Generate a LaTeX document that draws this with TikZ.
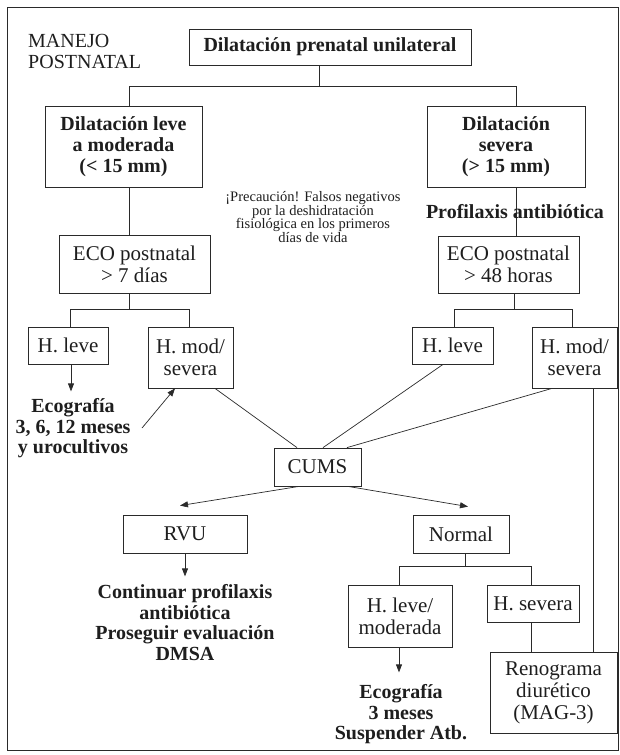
\documentclass[tikz,border=0pt]{standalone}
\usepackage{fontspec}
\setmainfont{Liberation Serif}
\usetikzlibrary{arrows.meta,calc}
\definecolor{txt}{HTML}{1E1E1E}
\definecolor{lnc}{HTML}{2A2A2A}
\begin{document}
\begin{tikzpicture}[x=1pt,y=-1pt,
  box/.style={draw=lnc, line width=0.8pt, inner sep=0pt, align=center, text=txt},
  reg/.style={font=\fontsize{21}{22}\selectfont},
  bld/.style={font=\fontsize{20}{21}\selectfont\bfseries},
  bldb/.style={font=\fontsize{20}{20.5}\selectfont\bfseries, text=txt, inner sep=0pt, align=center},
  smalltxt/.style={font=\fontsize{14.5}{13.8}\selectfont, text=txt, inner sep=0pt, align=center},
  ln/.style={draw=lnc, line width=0.7pt},
  arr/.style={ln, -{Triangle[length=8pt,width=6pt]}}]
\useasboundingbox (0,0) rectangle (620,755);
\draw[draw=lnc, line width=0.8pt] (7,7) rectangle (618.5,750);

% free text
\node[font=\fontsize{20}{21}\selectfont, text=txt, inner sep=0pt, anchor=north west, align=left] (man) at (28,34) {MANEJO\\POSTNATAL};

% boxes
\node[box, bld, minimum width=282pt, minimum height=36pt] (title) at (330,47) {Dilatación prenatal unilateral};
\node[box, bld, minimum width=157pt, minimum height=81pt] (dl) at (123.5,146.5) {Dilatación leve\\a moderada\\(< 15 mm)};
\node[box, bld, minimum width=158pt, minimum height=81pt] (ds) at (506,146.5) {Dilatación\\severa\\(> 15 mm)};
\node[box, reg, minimum width=151pt, minimum height=58pt] (ecoL) at (134.5,264) {ECO postnatal\\> 7 días};
\node[box, reg, minimum width=141pt, minimum height=57pt] (ecoR) at (508.5,264.5) {ECO postnatal\\> 48 horas};
\node[box, reg, minimum width=80pt, minimum height=37pt] (hlL) at (68,345.5) {H. leve};
\node[box, reg, minimum width=85pt, minimum height=61pt] (hmL) at (190.5,357.5) {H. mod/\\severa};
\node[box, reg, minimum width=81pt, minimum height=37pt] (hlR) at (452.5,345.5) {H. leve};
\node[box, reg, minimum width=85pt, minimum height=61pt] (hmR) at (574.5,357.5) {H. mod/\\severa};
\node[box, reg, minimum width=87pt, minimum height=38pt] (cums) at (317.5,467) {CUMS};
\node[box, reg, minimum width=124pt, minimum height=38pt] (rvu) at (185,534) {RVU};
\node[box, reg, minimum width=96pt, minimum height=38pt] (normal) at (461,534) {Normal};
\node[box, reg, minimum width=104pt, minimum height=62pt] (hlm) at (400,616) {H. leve/\\moderada};
\node[box, reg, minimum width=92pt, minimum height=37pt] (hsev) at (533,603.5) {H. severa};
\node[box, reg, minimum width=127pt, minimum height=81pt] (reno) at (553.5,692.5) {Renograma\\diurético\\(MAG-3)};

% junctions
\coordinate (t1) at (319,86);
\coordinate (tL) at (129,86);
\coordinate (tR) at (516,86);
\coordinate (e1) at (129,309);
\coordinate (e1L) at (70,309);
\coordinate (e1R) at (189,309);
\coordinate (e2) at (514,309);
\coordinate (e2L) at (454,309);
\coordinate (e2R) at (572,309);
\coordinate (n1) at (465,566);
\coordinate (n1L) at (399,566);
\coordinate (n1R) at (531,566);
\coordinate (rv) at (593,0);
\coordinate (u1) at (142,428);

% tree connectors
\draw[ln] (title.south -| t1) -- (t1);
\draw[ln] (tL |- dl.north) -- (tL) -- (tR) -- (tR |- ds.north);
\draw[ln] (tL |- dl.south) -- (tL |- ecoL.north);
\draw[ln] (tR |- ds.south) -- (tR |- ecoR.north);
\draw[ln] (e1 |- ecoL.south) -- (e1);
\draw[ln] (e1L |- hlL.north) -- (e1L) -- (e1R) -- (e1R |- hmL.north);
\draw[ln] (e2 |- ecoR.south) -- (e2);
\draw[ln] (e2L |- hlR.north) -- (e2L) -- (e2R) -- (e2R |- hmR.north);
\draw[ln] (n1 |- normal.south) -- (n1);
\draw[ln] (n1L |- hlm.north) -- (n1L) -- (n1R) -- (n1R |- hsev.north);
\draw[ln] (n1R |- hsev.south) -- (n1R |- reno.north);
\draw[ln] (rv |- hmR.south) -- (rv |- reno.north);

% diagonals to CUMS
\draw[ln] ($(hmL.south)+(24.5,0)$) -- ($(cums.north)+(-20.5,0)$);
\draw[ln] ($(hlR.south)+(-9.5,0)$) -- ($(cums.north)+(5.5,0)$);
\draw[ln] ($(hmR.south)+(-22.5,0)$) -- ($(cums.north)+(29.5,0)$);

% arrows
\draw[arr] ($(hlL.south)+(3,0)$) -- ++(0,27);
\draw[arr] (u1) -- ($(hmL.south)+(-15.5,0)$);
\draw[arr] ($(cums.south)+(-18.5,0)$) -- ($(rvu.north)+(-5,-9)$);
\draw[arr] ($(cums.south)+(30.5,0)$) -- ($(normal.north)+(7,-8)$);
\draw[arr] (rvu.south) -- ++(0,23);
\draw[arr] ($(hlm.south)+(-1,0)$) -- ++(0,25);

% text blocks
\node[smalltxt] (prec) at (313,217) {¡Precaución! Falsos negativos\\por la deshidratación\\fisiológica en los primeros\\días de vida};
\node[bldb, anchor=base] (prof) at (515,218) {Profilaxis antibiótica};
\node[bldb, anchor=north] (eco1) at (73,398.3) {Ecografía\\3, 6, 12 meses\\y urocultivos};
\node[bldb, anchor=north] (cont) at (185,584.3) {Continuar profilaxis\\antibiótica\\Proseguir evaluación\\DMSA};
\node[bldb, anchor=north] (eco2) at (401,684.3) {Ecografía\\3 meses\\Suspender Atb.};
\end{tikzpicture}
\end{document}
